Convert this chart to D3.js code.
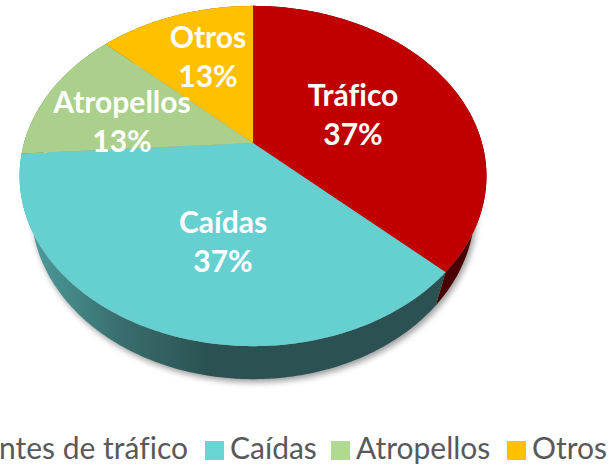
<!DOCTYPE html>
<html>
<head>
<meta charset="utf-8">
<script src="https://cdn.jsdelivr.net/npm/d3@7"></script>
<style>
  html, body { margin: 0; padding: 0; background: #fff; overflow: hidden; }
  svg { display: block; }
  text { font-variant-ligatures: none; }
</style>
</head>
<body>
<div id="chart"></div>
<script>
const categories = ['Accidentes de tráfico', 'Caídas', 'Atropellos', 'Otros'];
const shortNames = ['Tráfico', 'Caídas', 'Atropellos', 'Otros'];
const values = [37, 37, 13, 13];
const topColors = ['#c00000', '#66cfcf', '#abd08b', '#ffc000'];
const legendColors = ['#c00000', '#6ad3d3', '#b0d992', '#ffc000'];
const sideColors = ['#4a0000', 'url(#sideTeal)', '#5c7a45', '#7f6000'];

const width = 609;
const height = 465;

const svg = d3.select('#chart')
  .append('svg')
  .attr('width', width)
  .attr('height', height);

// Perspective of the tilted disc: unit circle -> screen
const cx = 253;
const apexY = 143;
const persp = -0.194;
const radX = 229;
const radY = 136;
const depth = 33;
const bottomScale = 0.95;

function project(angle, lower) {
  const u = Math.sin(angle);
  const v = -Math.cos(angle);
  const w = persp * v + 1;
  const s = lower ? bottomScale : 1;
  return [
    cx + s * radX * u / w,
    (radY * v + apexY) / w + (lower ? depth : 0)
  ];
}

function rimPoints(a0, a1, lower) {
  const n = Math.ceil(Math.abs(a1 - a0) / 0.01);
  return d3.range(n + 1).map(i => project(a0 + (a1 - a0) * i / n, lower));
}

const line = d3.line();
const pie = d3.pie().sort(null).value(d => d);
const slices = pie(values);

// Gradient for the visible side of the teal slice
const defs = svg.append('defs');
const grad = defs.append('linearGradient')
  .attr('id', 'sideTeal')
  .attr('gradientUnits', 'userSpaceOnUse')
  .attr('x1', 25).attr('x2', 210)
  .attr('y1', 0).attr('y2', 0);
grad.append('stop').attr('offset', 0).attr('stop-color', '#4d9f9f');
grad.append('stop').attr('offset', 0.5).attr('stop-color', '#3a6f6f');
grad.append('stop').attr('offset', 1).attr('stop-color', '#2b5152');

defs.append('filter')
  .attr('id', 'soft')
  .attr('x', '-10%').attr('y', '-10%')
  .attr('width', '120%').attr('height', '120%')
  .append('feGaussianBlur')
  .attr('stdDeviation', 3);

// Shadow under the disc
svg.append('path')
  .attr('d', line(rimPoints(0, 2 * Math.PI, true)) + 'Z')
  .attr('fill', '#000')
  .attr('opacity', 0.4)
  .attr('filter', 'url(#soft)')
  .attr('transform', 'translate(2,3)');

// Side walls
svg.append('g')
  .selectAll('path')
  .data(slices)
  .join('path')
  .attr('fill', (d, i) => sideColors[i])
  .attr('d', d => line(
    rimPoints(d.startAngle, d.endAngle, false)
      .concat(rimPoints(d.endAngle, d.startAngle, true))
  ) + 'Z');

// Top faces
svg.append('g')
  .selectAll('path')
  .data(slices)
  .join('path')
  .attr('fill', (d, i) => topColors[i])
  .attr('d', d => line(
    [[cx, apexY]].concat(rimPoints(d.startAngle, d.endAngle, false))
  ) + 'Z');

// Slice labels
const labelPos = [[353, 106], [223, 233], [122, 113], [208, 48]];
const labelFont = 'Lato, "Open Sans", sans-serif';
const labels = svg.append('g')
  .attr('font-family', labelFont)
  .attr('font-size', 30)
  .attr('font-weight', 700)
  .attr('fill', '#ffffff')
  .attr('text-anchor', 'middle');

slices.forEach((d, i) => {
  const [lx, ly] = labelPos[i];
  labels.append('text').attr('x', lx).attr('y', ly).text(shortNames[i]);
  labels.append('text').attr('x', lx).attr('y', ly + 39).text(`${d.value}%`);
});

// Legend, its first entry runs off the left edge
const swatchX = [-40, 205, 331, 507];
const legend = svg.append('g')
  .attr('font-family', labelFont)
  .attr('font-size', 30)
  .attr('fill', '#595959');

categories.forEach((name, i) => {
  legend.append('rect')
    .attr('x', swatchX[i])
    .attr('y', 441)
    .attr('width', 19)
    .attr('height', 19)
    .attr('fill', legendColors[i]);
  if (i === 0) {
    legend.append('text')
      .attr('x', 188).attr('y', 459)
      .attr('text-anchor', 'end')
      .text(name);
  } else {
    legend.append('text')
      .attr('x', swatchX[i] + 25).attr('y', 459)
      .text(name);
  }
});
</script>
</body>
</html>
